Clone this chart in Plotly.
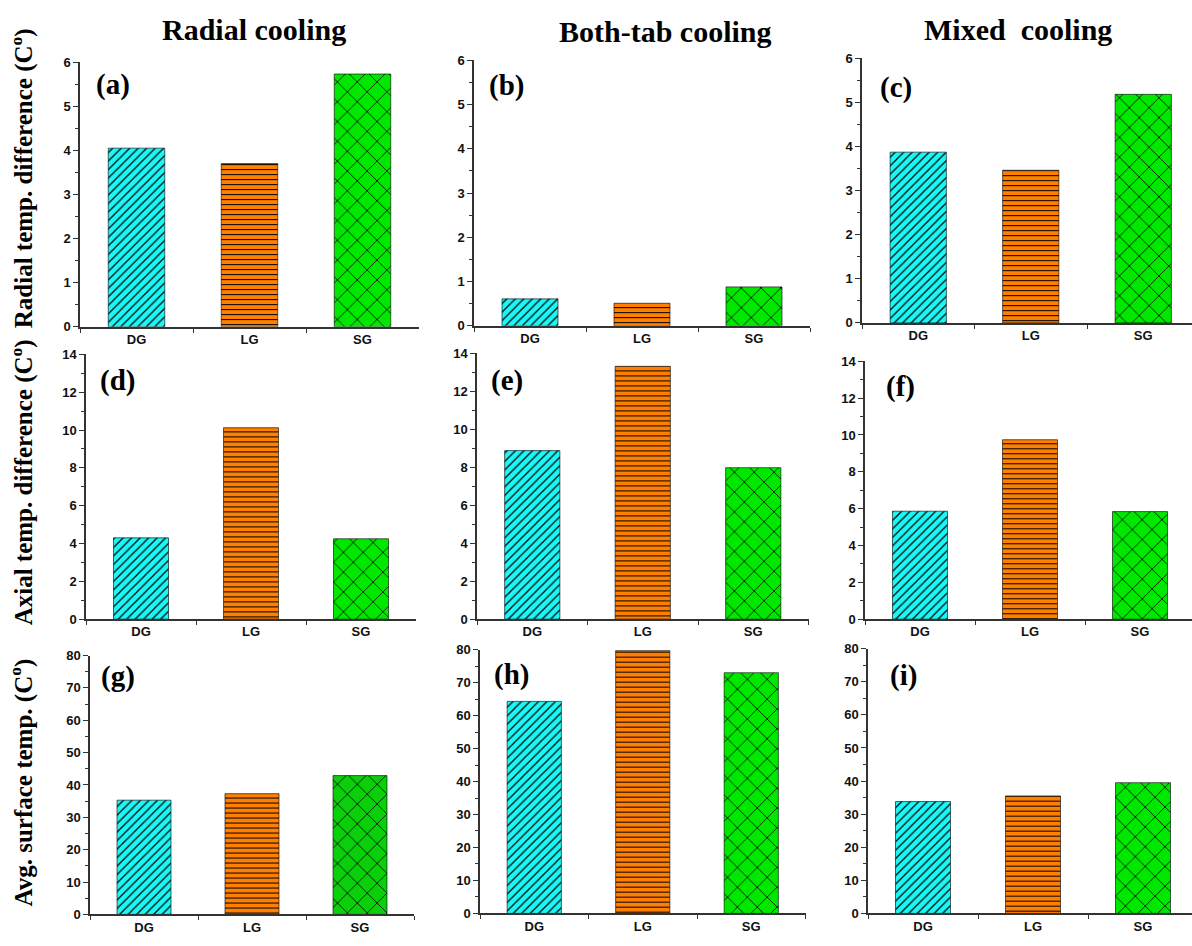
import plotly.graph_objects as go

W, H = 1192, 946

categories = ["DG", "LG", "SG"]
column_titles = ["Radial cooling", "Both-tab cooling", "Mixed&nbsp;&nbsp;cooling"]
row_titles = ["Radial temp. difference (C<sup>o</sup>)",
              "Axial temp. difference (C<sup>o</sup>)",
              "Avg. surface temp. (C<sup>o</sup>)"]
panel_labels = ["(a)", "(b)", "(c)", "(d)", "(e)", "(f)", "(g)", "(h)", "(i)"]

radial_diff_radial = [4.05, 3.70, 5.73]
radial_diff_bothtab = [0.61, 0.51, 0.88]
radial_diff_mixed = [3.87, 3.46, 5.18]
axial_diff_radial = [4.30, 10.12, 4.25]
axial_diff_bothtab = [8.88, 13.32, 7.98]
axial_diff_mixed = [5.86, 9.74, 5.84]
avg_temp_radial = [35.3, 37.3, 42.9]
avg_temp_bothtab = [64.3, 79.7, 73.0]
avg_temp_mixed = [33.8, 35.5, 39.5]

y_ranges = [[0, 6], [0, 14], [0, 80]]
y_dticks = [1, 2, 10]

bar_colors = ["#19F7F7", "#FF8000", "#00E800"]
bar_colors_g = ["#19F7F7", "#FF8000", "#0ACF0A"]
pattern_shapes = ["/", "-", "x"]
pattern_sizes = [6, 5, 14]
pattern_solidity = [0.2, 0.2, 0.11]

values = [radial_diff_radial, radial_diff_bothtab, radial_diff_mixed,
          axial_diff_radial, axial_diff_bothtab, axial_diff_mixed,
          avg_temp_radial, avg_temp_bothtab, avg_temp_mixed]

# layout in pixels: (x0, category spacing, y_top, y_bottom)
panels_px = [
    (80, 113, 56, 325), (474, 112, 54, 324), (862, 112.5, 52, 321),
    (86, 110, 353, 622), (477, 110.5, 352, 622), (865, 110, 360, 622),
    (90, 108, 659, 922), (480, 108.5, 653, 921), (868, 110, 652, 921),
]
label_px = [(94, 79), (487, 80), (878, 82),
            (98, 380), (489, 380), (884, 386),
            (99, 680), (492, 678), (888, 679)]

fig = go.Figure()
axis_line = "#333333"
tick_font = dict(family="Liberation Sans, Arial", size=13, color="#111111", weight=700)

for i, vals in enumerate(values):
    row = i // 3
    x0, sp, yt, yb = panels_px[i]
    x1 = min(x0 + 3 * sp, W)
    xr_end = -0.5 + (x1 - x0) / sp
    idx = "" if i == 0 else str(i + 1)
    cols = bar_colors_g if i == 6 else bar_colors
    fig.add_trace(go.Bar(
        x=categories, y=vals, width=0.5,
        xaxis="x" + idx, yaxis="y" + idx,
        marker=dict(
            color="#000000",
            line=dict(color="rgba(0,0,0,0.6)", width=1),
            pattern=dict(shape=pattern_shapes, size=pattern_sizes,
                         solidity=pattern_solidity, fgcolor="#000000", fgopacity=1,
                         bgcolor=cols, fillmode="replace"),
        ),
        showlegend=False, hoverinfo="x+y",
    ))
    fig.layout["xaxis" + idx] = dict(
        domain=[x0 / W, x1 / W], anchor="y" + idx, type="category",
        range=[-0.5, xr_end], showline=True, linecolor=axis_line, linewidth=1.5,
        ticks="outside", tickson="boundaries", ticklen=4, tickwidth=1.2,
        tickcolor=axis_line, tickfont=tick_font, showgrid=False, zeroline=False,
        fixedrange=True,
    )
    fig.layout["yaxis" + idx] = dict(
        domain=[1 - yb / H, 1 - yt / H], anchor="x" + idx,
        range=y_ranges[row], dtick=y_dticks[row], tick0=0,
        showline=True, linecolor=axis_line, linewidth=1.5,
        ticks="outside", ticklen=5, tickwidth=1.2, tickcolor=axis_line,
        minor=dict(ticks="outside", ticklen=3, tickcolor=axis_line, tickwidth=1,
                   dtick=y_dticks[row] / 2),
        tickfont=tick_font, showgrid=False, zeroline=False, fixedrange=True,
    )
    lx, ly = label_px[i]
    fig.add_annotation(text="<b>" + panel_labels[i] + "</b>", xref="paper", yref="paper",
                       x=lx / W, y=1 - ly / H, xanchor="left", yanchor="middle",
                       showarrow=False,
                       font=dict(family="Liberation Serif, Times New Roman", size=29, color="#000"))

title_px = [(254, 23), (665, 25), (1018, 23)]
for t, (tx, ty) in zip(column_titles, title_px):
    fig.add_annotation(text="<b>" + t + "</b>", xref="paper", yref="paper",
                       x=tx / W, y=1 - ty / H, xanchor="center", yanchor="middle",
                       showarrow=False,
                       font=dict(family="Liberation Serif, Times New Roman", size=30, color="#000"))

ytitle_px = [(22, 174), (22, 483), (22, 788)]
for t, (tx, ty) in zip(row_titles, ytitle_px):
    fig.add_annotation(text="<b>" + t + "</b>", xref="paper", yref="paper",
                       x=tx / W, y=1 - ty / H, xanchor="center", yanchor="middle",
                       textangle=-90, showarrow=False,
                       font=dict(family="Liberation Serif, Times New Roman", size=25, color="#000"))

fig.update_layout(
    width=W, height=H, margin=dict(l=0, r=0, t=0, b=0),
    paper_bgcolor="white", plot_bgcolor="white", bargap=0.5,
)

fig.write_html("out.html")
